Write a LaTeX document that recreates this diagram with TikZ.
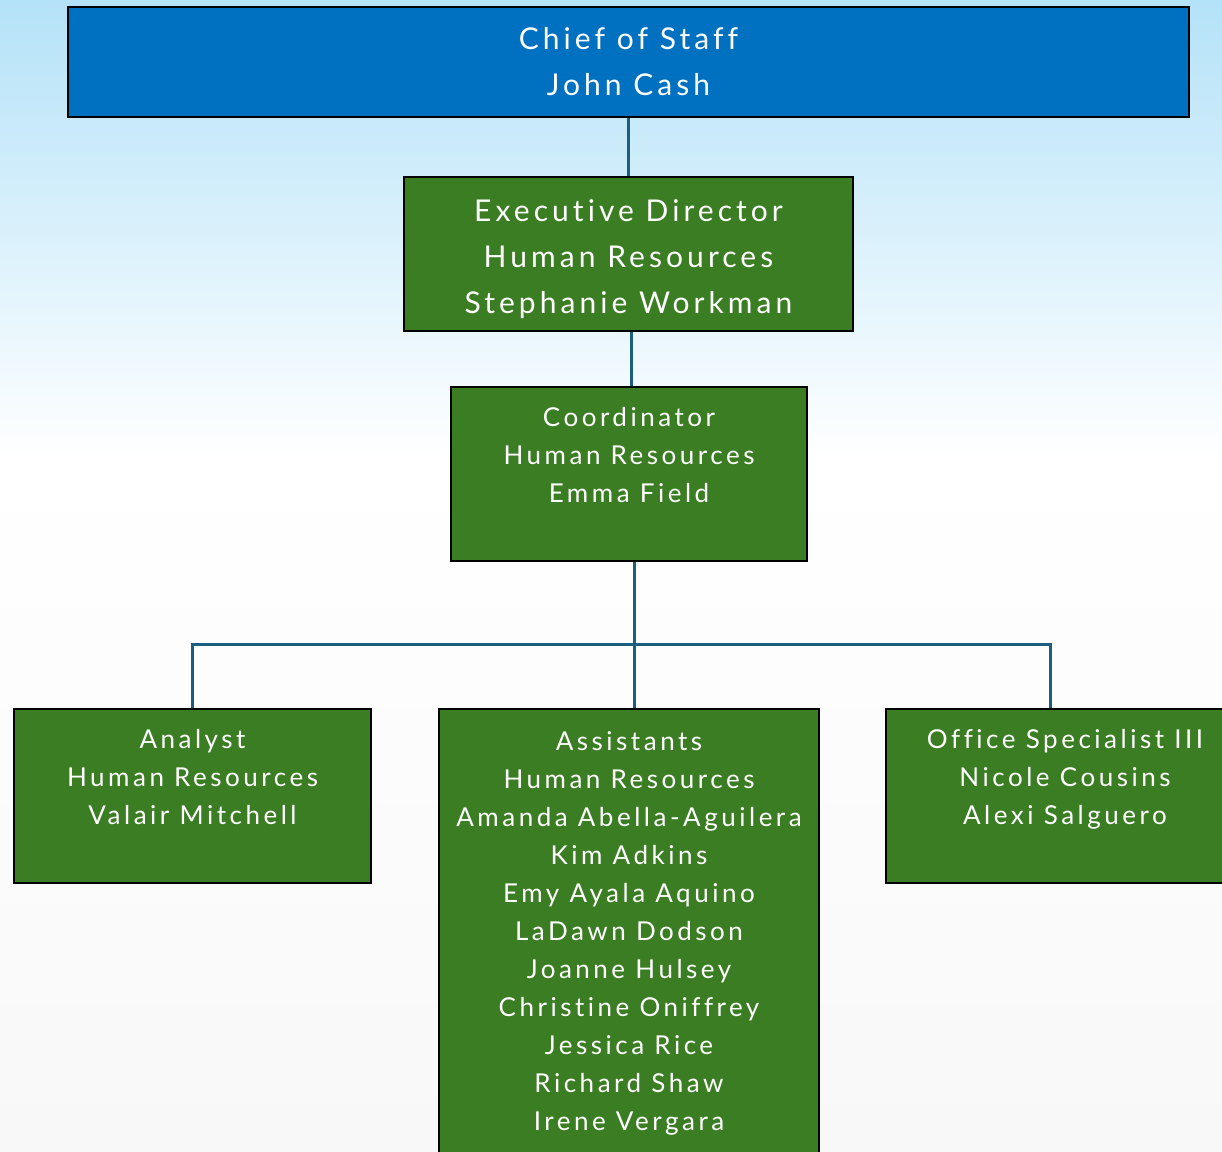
\documentclass[tikz,border=0pt]{standalone}
\usepackage{fontspec}
\setmainfont[LetterSpace=13.5,Ligatures=NoCommon]{Lato}
\usetikzlibrary{positioning}
\definecolor{staffblue}{RGB}{0,112,192}
\definecolor{hrgreen}{RGB}{59,125,34}
\definecolor{linkblue}{RGB}{26,94,128}
\definecolor{skytop}{RGB}{180,226,248}
\definecolor{floorgray}{RGB}{248,248,248}
\begin{document}
\begin{tikzpicture}[x=0.75pt,y=-0.75pt,
		box/.style={draw=black, line width=1.5pt, fill=hrgreen, text=white, align=center, inner sep=0pt},
		bigtext/.style={font=\fontsize{22.5pt}{34.5pt}\selectfont},
		smalltext/.style={font=\fontsize{19.5pt}{28.5pt}\selectfont},
		link/.style={draw=linkblue, line width=2.25pt}]
		\useasboundingbox (0,0) rectangle (1222,1152);
		\clip (0,0) rectangle (1222,1152);
		\shade [top color=skytop, bottom color=white] (0,0) rectangle (1222,460);
		\shade [top color=white, bottom color=floorgray] (0,460) rectangle (1222,1152);
		% boxes
		\node [box, bigtext, fill=staffblue, minimum width=840.75pt, minimum height=82.5pt] (chief) at (628.5,62) {Chief of Staff\\John Cash};
		\node [box, bigtext, minimum width=336.75pt, minimum height=115.5pt] (execdir) at (628.5,254) {\rule{0pt}{24pt}Executive Director\\Human Resources\\Stephanie Workman};
		\node [box, smalltext, minimum width=267pt, minimum height=130.5pt] (coord) at (629,474) {Coordinator\\Human Resources\\Emma Field\\\mbox{}};
		\node [box, smalltext, minimum width=267.75pt, minimum height=130.5pt] (analyst) at (192.5,796) {Analyst\\Human Resources\\Valair Mitchell\\\mbox{}};
		\node [box, smalltext, minimum width=285pt, minimum height=336.75pt] (assist) at (629,933.5) {Assistants\\Human Resources\\Amanda Abella-Aguilera\\Kim Adkins\\Emy Ayala Aquino\\LaDawn Dodson\\Joanne Hulsey\\Christine Oniffrey\\Jessica Rice\\Richard Shaw\\Irene Vergara};
		\node [box, smalltext, minimum width=268.5pt, minimum height=130.5pt] (office) at (1065,796) {Office Specialist III\\Nicole Cousins\\Alexi Salguero\\\mbox{}};
		% connectors
		\coordinate (split) at (634,644);
		\draw [link] (chief) -- (chief.south |- execdir.north);
		\draw [link] ([xshift=2.6pt]execdir.south) -- ([xshift=2.6pt]execdir.south |- coord.north);
		\draw [link] ([xshift=3.75pt]coord.south) -- ([xshift=3.75pt]coord.south |- assist.north);
		\draw [link] (analyst.north) |- (split) -| ([xshift=-11.25pt]office.north);
\end{tikzpicture}
\end{document}
